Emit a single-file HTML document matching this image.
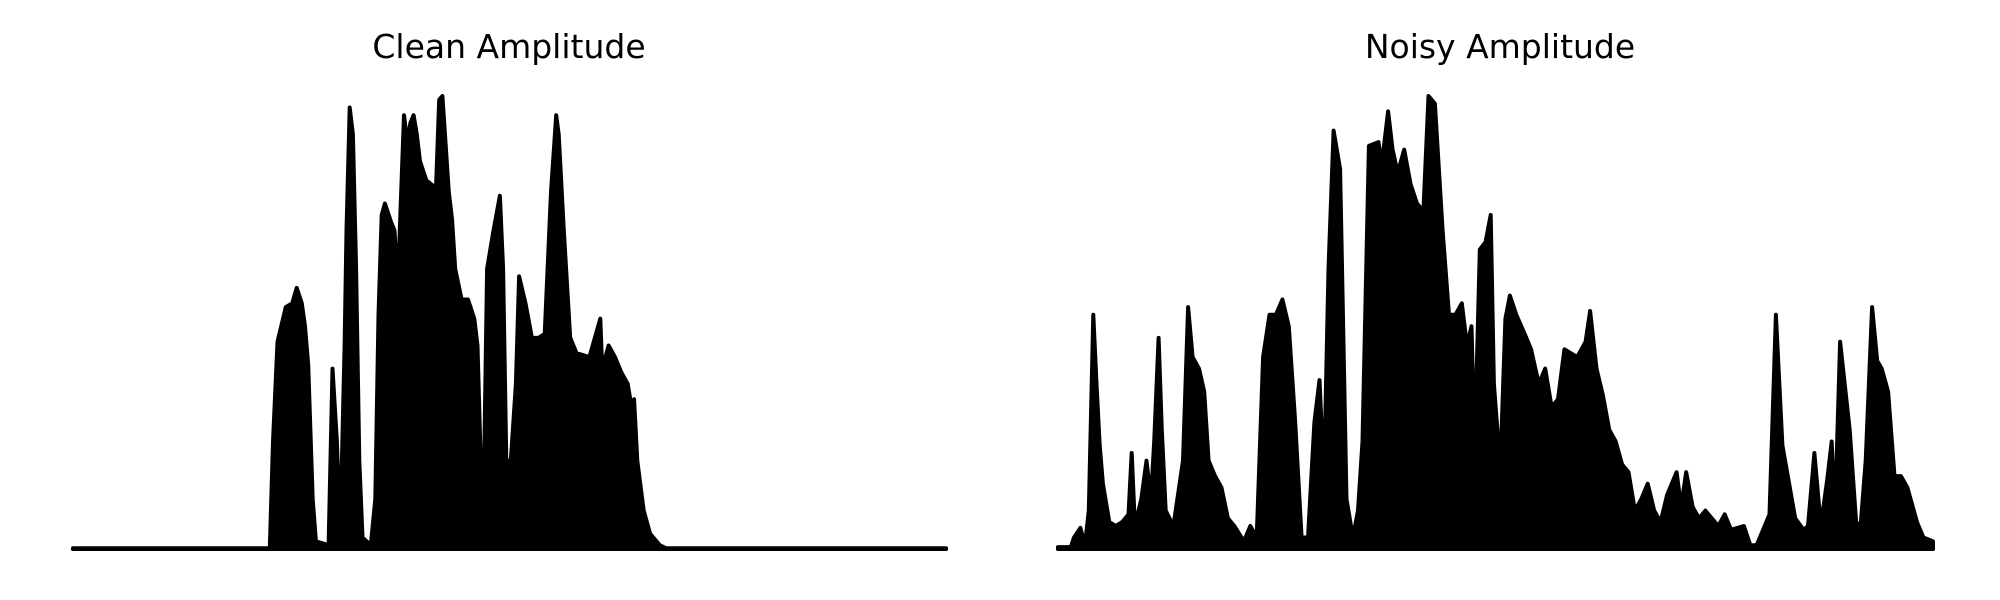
<!DOCTYPE html>
<html><head><meta charset="utf-8"><style>
html,body{margin:0;padding:0;background:#fff;width:2000px;height:600px;overflow:hidden}
svg{display:block}
text{font-family:"DejaVu Sans","Liberation Sans",sans-serif;fill:#000}
</style></head><body>
<svg id="chart" width="2000" height="600" viewBox="0 0 2000 600">
<text x="509" y="58" font-size="33" text-anchor="middle">Clean Amplitude</text>
<text x="1500" y="58" font-size="33" text-anchor="middle">Noisy Amplitude</text>
<g id="clean"></g>
<g id="noisy"></g>
</svg>
<script>
// Clean amplitude envelope: sample positions and amplitudes
const cleanT = [0,308,313,320,333,343,350,358,363,368,375,380,400,406,413,418,425,428,433,438,443,448,453,466,473,478,483,488,498,503,508,513,518,523,528,533,538,543,553,568,573,578,588,593,598,608,618,628,633,638,643,648,658,668,673,678,685,693,698,708,718,728,738,748,756,760,768,778,788,808,825,828,838,848,858,868,873,878,883,893,903,918,928,1366];
const cleanA = [2,2,280,540,630,640,680,640,580,480,130,20,10,470,280,30,530,830,1150,1080,730,230,30,10,130,610,870,900,850,830,680,910,1130,1060,1110,1130,1080,1010,960,940,1170,1180,930,860,730,650,650,600,530,230,180,730,830,920,730,230,230,430,710,640,550,550,560,930,1130,1080,830,550,510,500,600,470,530,500,460,430,380,390,230,100,40,10,2,2];
// Noisy amplitude envelope
const noisyT = [0,20,25,35,42,48,55,60,65,70,80,90,100,110,115,120,130,138,145,150,157,162,168,180,195,203,210,220,228,235,245,255,265,275,290,300,310,320,330,340,350,360,370,380,390,400,408,415,422,430,440,450,460,468,475,485,500,505,515,522,530,540,550,560,570,578,588,600,610,620,630,638,645,650,658,667,675,680,690,698,705,715,728,738,750,760,770,780,790,810,823,830,840,850,860,870,880,890,900,910,920,930,940,950,965,972,980,990,1000,1010,1020,1030,1040,1050,1070,1080,1090,1100,1110,1120,1130,1150,1163,1170,1180,1190,1200,1207,1212,1220,1235,1245,1252,1260,1270,1278,1285,1295,1305,1315,1325,1340,1350,1365];
const noisyA = [5,5,30,55,10,100,610,430,270,170,70,60,70,90,250,60,130,230,130,280,550,310,100,60,230,630,500,470,410,230,190,160,80,60,20,60,30,500,610,610,650,580,330,30,30,330,440,180,730,1090,990,130,30,100,280,1050,1060,1000,1140,1040,980,1040,950,900,880,1180,1160,830,610,610,640,530,580,260,780,800,870,430,210,600,660,610,560,520,430,470,370,390,520,500,540,620,470,400,310,280,220,200,100,130,170,100,70,140,200,110,200,110,80,100,80,60,90,50,60,10,10,50,90,610,270,80,50,60,250,60,180,280,80,540,310,70,60,230,630,490,470,410,190,190,160,70,30,20,60,55];

const PLOT_Y0 = 549, PLOT_Y1 = 96;
function makeX(dmax, r0, r1){ return v => r0 + (v/dmax)*(r1-r0); }
function makeY(dmax){ return v => PLOT_Y0 - (v/dmax)*(PLOT_Y0-PLOT_Y1); }

function drawSeries(gid, T, A, xr0, xr1, name){
  const g = document.getElementById(gid);
  const x = makeX(T[T.length-1], xr0, xr1);
  const y = makeY(1180);
  let d = 'M' + x(T[0]) + ',' + PLOT_Y0;
  for (let i=0;i<T.length;i++) d += ' L' + x(T[i]).toFixed(1) + ',' + y(A[i]).toFixed(1);
  d += ' L' + x(T[T.length-1]) + ',' + PLOT_Y0 + ' Z';
  const p = document.createElementNS('http://www.w3.org/2000/svg','path');
  p.setAttribute('d', d);
  p.setAttribute('fill', '#000');
  p.setAttribute('stroke', '#000');
  p.setAttribute('stroke-width', '4');
  p.setAttribute('stroke-linejoin', 'round');
  
  
  g.appendChild(p);
  const b = document.createElementNS('http://www.w3.org/2000/svg','line');
  b.setAttribute('x1', x(T[0])); b.setAttribute('x2', x(T[T.length-1]));
  b.setAttribute('y1', PLOT_Y0); b.setAttribute('y2', PLOT_Y0);
  b.setAttribute('stroke', '#000'); b.setAttribute('stroke-width', '4');
  b.setAttribute('stroke-linecap', 'round');
  
  
  g.appendChild(b);
}
drawSeries('clean', cleanT, cleanA, 73, 946, 'clean-amplitude-series');
drawSeries('noisy', noisyT, noisyA, 1058, 1933, 'noisy-amplitude-series');
</script>
</body></html>
